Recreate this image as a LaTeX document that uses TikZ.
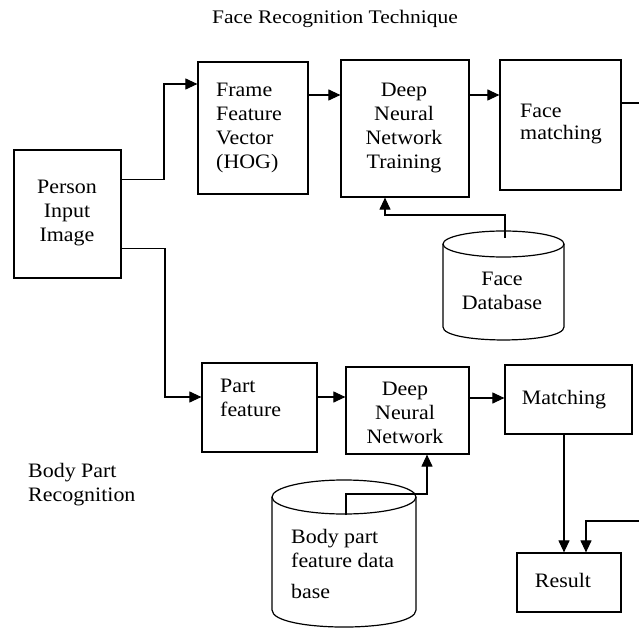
\documentclass[tikz,border=0pt]{standalone}
\usepackage{fontspec}
\setmainfont[FakeStretch=1.07]{Liberation Serif}
\newfontfamily\titlefont[FakeStretch=1.12]{Liberation Serif}
\usetikzlibrary{arrows.meta,calc}
\begin{document}
\begin{tikzpicture}[x=1pt,y=-1pt,
  box/.style={draw,line width=1.2pt,inner sep=0pt},
  txt/.style={font=\fontsize{20.5}{24}\selectfont,inner sep=0pt},
  conn/.style={line width=1pt},
  arr/.style={line width=1.1pt,-{Triangle[length=12pt,width=11pt]}},
  cyl/.style={line width=1.2pt}]
\clip (0,0) rectangle (639,628);
\fill[white] (0,0) rectangle (639,628);

% title
\node[inner sep=0pt,font=\titlefont\fontsize{19.2}{22}\selectfont] (title) at (335,19) {Face Recognition Technique};

% boxes
\node[box,minimum width=107,minimum height=128] (person) at (67.5,214) {};
\node[box,minimum width=110,minimum height=132] (frame) at (253,128) {};
\node[box,minimum width=128,minimum height=137] (dnn1) at (405,128.5) {};
\node[box,minimum width=121,minimum height=130] (fm) at (560.5,125) {};
\node[box,minimum width=115,minimum height=89] (part) at (259.5,407.5) {};
\node[box,minimum width=123,minimum height=87] (dnn2) at (407.5,410.5) {};
\node[box,minimum width=127,minimum height=69] (match) at (568.5,399.5) {};
\node[box,minimum width=104,minimum height=59] (result) at (569,582.5) {};

% texts
\node[txt,align=center] (tperson) at (67,213) {Person\\Input\\Image};
\node[txt,align=left,anchor=west] (tframe) at (216,128) {Frame\\Feature\\Vector\\(HOG)};
\node[txt,align=center] (tdnn1) at (404,128) {Deep\\Neural\\Network\\Training};
\node[txt,align=left,anchor=west,font=\fontsize{20.5}{22}\selectfont] (tfm) at (520,124) {Face\\matching};
\node[txt,align=left,anchor=west] (tpart) at (220,398) {Part\\feature};
\node[txt,align=center] (tdnn2) at (405,413) {Deep\\Neural\\Network};
\node[txt] (tmatch) at (564,400) {Matching};
\node[txt] (tresult) at (563,580) {Result};
\node[txt,align=left,anchor=west] (tbpr) at (28,485) {Body Part\\Recognition};

% face database cylinder
\draw[cyl] (503.5,244) ellipse [x radius=60.5,y radius=13];
\draw[cyl] (443,244) -- (443,327) .. controls (443,344.3) and (564,344.3) .. (564,327) -- (564,244);
\node[txt,align=center] (fdb) at (502,290.5) {Face\\Database};
\coordinate (fdbtop) at (505,238);

% body part database cylinder
\draw[cyl] (344,497) ellipse [x radius=72,y radius=17];
\draw[cyl] (272,497) -- (272,610) .. controls (272,632.7) and (416,632.7) .. (416,610) -- (416,497);
\node[txt,align=left,anchor=west] (bdb) at (291,548.5) {Body part\\feature data};
\node[txt,anchor=west] (bdb2) at (291,591) {base};
\coordinate (bdbtop) at (346,515);

% connectors
\draw[arr] ($(person.north east)+(0,30)$) -| (164,84) -- (frame.west |- 0,84);
\draw[arr] (frame.east |- 0,95) -- (dnn1.west |- 0,95);
\draw[arr] (dnn1.east |- 0,95) -- (fm.west |- 0,95);
\draw[arr] (fdbtop) -- (fdbtop |- 0,215) -- (385,215) -- (dnn1.south -| 385,0);
\draw[arr] ($(person.north east)+(0,99)$) -| (165,397) -- (part.west |- 0,397);
\draw[arr] (part.east |- 0,397) -- (dnn2.west |- 0,397);
\draw[arr] (dnn2.east |- 0,398) -- (match.west |- 0,398);
\draw[arr] (bdbtop) -- (bdbtop |- 0,494) -- (427,494) -- (dnn2.south -| 427,0);
\draw[arr] (match.south -| 564,0) -- (result.north -| 564,0);
\draw[arr] (fm.east |- 0,103) -- (650,103) -- (650,521) -- (586,521) -- (result.north -| 586,0);
\end{tikzpicture}
\end{document}
